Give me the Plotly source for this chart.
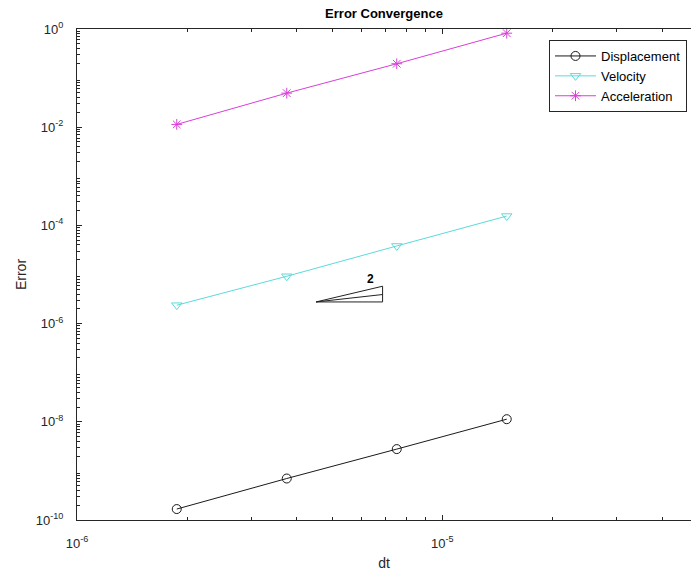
import numpy as np
import plotly.graph_objects as go

dt = [1.875e-6, 3.75e-6, 7.5e-6, 1.5e-5]
err_disp = [1.67e-10, 7.0e-10, 2.78e-9, 1.13e-8]
err_vel = [2.37e-6, 9.2e-6, 3.81e-5, 1.55e-4]
err_acc = [1.14e-2, 4.94e-2, 0.196, 0.822]

tri_x = [4.51e-6, 6.86e-6, 6.86e-6, 4.51e-6, 6.86e-6]
tri_y = [2.76e-6, 2.76e-6, 5.77e-6, 2.76e-6, 3.91e-6]
slope_label = "2"
slope_label_pos = (6.35e-6, 8.0e-6)

x_major = [1e-6, 1e-5]
x_major_text = ["10<sup>-6</sup>", "10<sup>-5</sup>"]
y_major = [1e-10, 1e-8, 1e-6, 1e-4, 1e-2, 1e0]
y_major_text = ["10<sup>-10</sup>", "10<sup>-8</sup>", "10<sup>-6</sup>", "10<sup>-4</sup>", "10<sup>-2</sup>", "10<sup>0</sup>"]

x_minor = [m * 10.0 ** e for e in (-6, -5) for m in range(2, 10)]
y_minor = [m * 10.0 ** e for e in range(-10, 0) for m in range(2, 10)]

axis_col = "#262626"
font_main = "Liberation Sans, Arial, sans-serif"

L, R, T, B = 77, 0, 29, 51
W, H = 691, 571
pw, ph = W - L - R, H - T - B

fig = go.Figure()
fig.add_trace(go.Scatter(x=dt, y=err_disp, name="Displacement", mode="lines+markers",
                         line=dict(color="#1a1a1a", width=1),
                         marker=dict(symbol="circle-open", size=9, color="#1a1a1a", line=dict(width=1))))
fig.add_trace(go.Scatter(x=dt, y=err_vel, name="Velocity", mode="lines+markers",
                         line=dict(color="#5cdada", width=1),
                         marker=dict(symbol="triangle-down-open", size=9, color="#5cdada", line=dict(width=1))))
fig.add_trace(go.Scatter(x=dt, y=err_acc, name="Acceleration", mode="lines+markers",
                         line=dict(color="#d93fd9", width=1),
                         marker=dict(symbol="asterisk-open", size=9, color="#d93fd9", line=dict(width=1, color="#d93fd9"))))
fig.add_trace(go.Scatter(x=tri_x, y=tri_y, mode="lines", showlegend=False, hoverinfo="skip",
                         line=dict(color="#222222", width=1)))

fig.add_annotation(x=np.log10(slope_label_pos[0]), y=np.log10(slope_label_pos[1]), text="<b>" + slope_label + "</b>",
                   showarrow=False, font=dict(size=12, color="black", family=font_main))

fig.update_layout(
    width=W, height=H,
    margin=dict(l=L, r=R, t=T, b=B),
    paper_bgcolor="white", plot_bgcolor="white",
    font=dict(family=font_main, size=12, color=axis_col),
    title=dict(text="<b>Error Convergence</b>", x=(L + W) / 2 / W, xanchor="center",
               y=1 - 13 / H, yanchor="middle", font=dict(size=13, color="black")),
    legend=dict(x=(687 - L) / pw, xanchor="right", y=(H - B - 40) / ph, yanchor="top",
                xref="paper", yref="paper",
                bgcolor="white", bordercolor="#262626", borderwidth=1,
                font=dict(size=13, color="black"), tracegroupgap=0, itemwidth=41),
    showlegend=True,
)

fig.update_xaxes(type="log", range=[-6, -6 + pw / 365.4],
                 tickmode="array", tickvals=x_major, ticktext=x_major_text,
                 ticks="inside", ticklen=5, tickcolor=axis_col, tickwidth=1,
                 showline=True, linecolor=axis_col, linewidth=1, mirror="ticks",
                 showgrid=False, zeroline=False, ticklabelstandoff=11,
                 tickfont=dict(size=13, color=axis_col),
                 minor=dict(tickmode="array", tickvals=x_minor, ticks="inside", ticklen=3,
                            tickcolor=axis_col, showgrid=False),
                 title=dict(text="dt", font=dict(size=14, color=axis_col), standoff=9))
fig.update_yaxes(type="log", range=[-10, 0],
                 tickmode="array", tickvals=y_major, ticktext=y_major_text,
                 ticks="inside", ticklen=5, tickcolor=axis_col, tickwidth=1,
                 showline=True, linecolor=axis_col, linewidth=1, mirror=False,
                 showgrid=False, zeroline=False, ticklabelstandoff=10,
                 tickfont=dict(size=13, color=axis_col),
                 minor=dict(tickmode="array", tickvals=y_minor, ticks="inside", ticklen=3,
                            tickcolor=axis_col, showgrid=False),
                 title=dict(text="Error", font=dict(size=14, color=axis_col), standoff=5))

fig.write_html("out.html")
